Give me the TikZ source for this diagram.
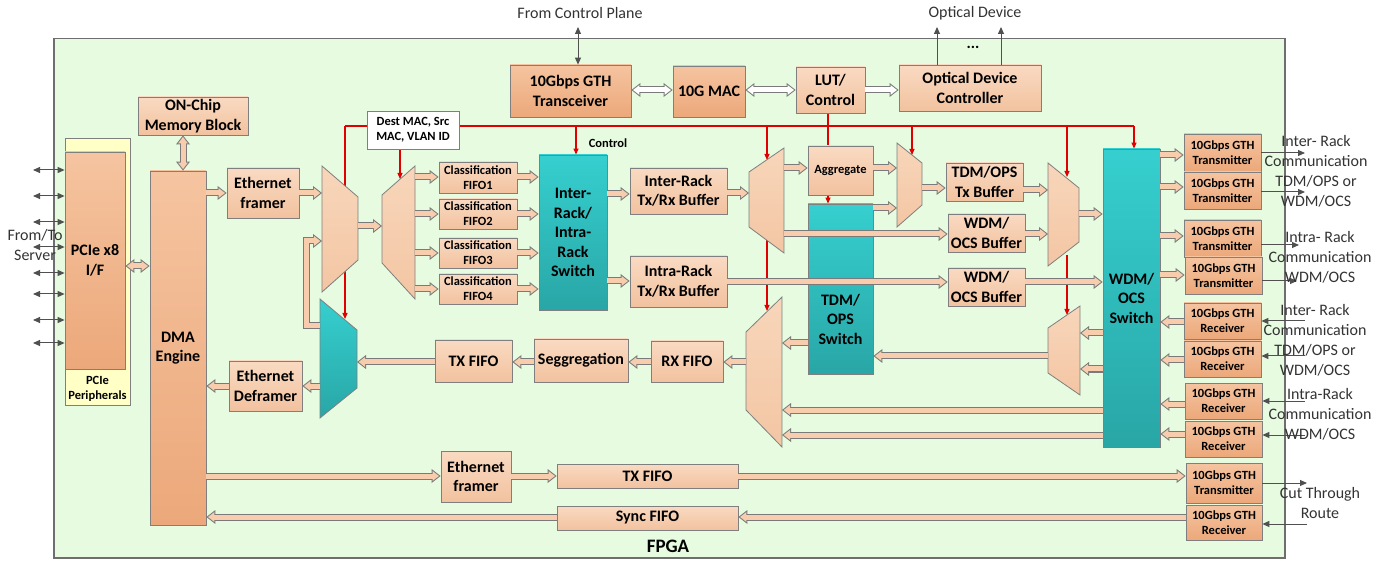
\documentclass[tikz,border=0pt]{standalone}
\usepackage{fontspec}
\setmainfont{Carlito}
\usetikzlibrary{arrows.meta,calc}
\pgfdeclarelayer{back}\pgfdeclarelayer{bg}
\pgfsetlayers{back,bg,main}
\definecolor{fpgabg}{HTML}{E6FBDF}
\definecolor{fgray}{HTML}{6E6E6E}
\definecolor{bgray}{HTML}{7F7F7F}
\definecolor{lpT}{HTML}{F9DAC2}
\definecolor{lpB}{HTML}{F2C29F}
\definecolor{orT}{HTML}{F5C4A0}
\definecolor{orB}{HTML}{ECA87A}
\definecolor{tlT}{HTML}{36CFCF}
\definecolor{tlB}{HTML}{29A6A6}
\definecolor{mxT}{HTML}{F8D6BA}
\definecolor{mxB}{HTML}{F3C6A4}
\definecolor{apeach}{HTML}{F7CDAE}
\definecolor{agray}{HTML}{7A7A7A}
\definecolor{ylw}{HTML}{FFFFC6}
\definecolor{dgray}{HTML}{505050}
\definecolor{ctl}{HTML}{E00000}
\tikzset{
 bt/.style={align=center, inner sep=1pt, text=black, font=\bfseries\fontsize{16}{19.5}\selectfont},
 box/.style={bt, draw=bgray, line width=0.8pt},
 lbox/.style={box, top color=lpT, bottom color=lpB},
 obox/.style={box, top color=orT, bottom color=orB},
 tbox/.style={box, top color=tlT, bottom color=tlB},
 sm/.style={font=\bfseries\fontsize{12.5}{15}\selectfont},
 lbl/.style={align=center, inner sep=0pt, text=black!80, font=\fontsize{16}{20}\selectfont},
 mx/.style={draw=bgray, line width=0.8pt, top color=mxT, bottom color=mxB},
 tmx/.style={draw=bgray, line width=0.8pt, top color=tlT, bottom color=tlB},
 barr/.style={draw=agray, line width=7pt, -{Triangle[length=9pt,width=14pt,line width=0pt]},
   postaction={draw=#1, line width=5pt, -{Triangle[length=6.4pt,width=9.9pt,line width=0pt]}, shorten >=1.63pt}},
 barr/.default=apeach,
 dbarr/.style={draw=agray, line width=7pt, {Triangle[length=9pt,width=14pt,line width=0pt]}-{Triangle[length=9pt,width=14pt,line width=0pt]},
   postaction={draw=#1, line width=5pt, {Triangle[length=6.4pt,width=9.9pt,line width=0pt]}-{Triangle[length=6.4pt,width=9.9pt,line width=0pt]}, shorten >=1.63pt, shorten <=1.63pt}},
 dbarr/.default=apeach,
 tarr/.style={draw=dgray, line width=1pt, -{Triangle[length=7pt,width=6pt]}},
 tdarr/.style={draw=dgray, line width=1pt, {Triangle[length=7pt,width=6pt]}-{Triangle[length=7pt,width=6pt]}},
 rline/.style={draw=ctl, line width=1.1pt},
 rarr/.style={draw=ctl, line width=1.1pt, -{Triangle[length=6pt,width=5pt]}},
}
\newcommand{\mybox}[7]{\node[#2, minimum width={#5-#3}, minimum height={#6-#4}] (#1) at ({(#3+#5)/2},{(#4+#6)/2}) {#7};}
\newcommand{\muxL}[8]{%
 \node[inner sep=0pt, outer sep=0pt, minimum width={#4-#3}, minimum height={#6-#5}, anchor=north west] (#1) at (#3,#5) {};
 \draw[#2] (#3,#5) -- (#4,{#5+#7}) -- (#4,{#6-#8}) -- (#3,#6) -- cycle;}
\newcommand{\muxR}[8]{%
 \node[inner sep=0pt, outer sep=0pt, minimum width={#4-#3}, minimum height={#6-#5}, anchor=north west] (#1) at (#3,#5) {};
 \draw[#2] (#3,{#5+#7}) -- (#4,#5) -- (#4,#6) -- (#3,{#6-#8}) -- cycle;}
\begin{document}
\begin{tikzpicture}[x=1pt,y=-1pt]
\useasboundingbox (0,0) rectangle (1398,561);
\begin{pgfonlayer}{back}
\node[draw=fgray, fill=fpgabg, line width=1.5pt, inner sep=0pt, minimum width=1231, minimum height=519, anchor=north west] (fpga) at (53,38) {};
\end{pgfonlayer}
% boxes
\mybox{pcieper}{draw=bgray, line width=0.8pt, fill=ylw}{65}{138}{130}{405}{}
\mybox{pcie}{obox}{65}{152}{125}{369}{PCIe x8\\I/F}
\node[bt, sm] (pcielbl) at (97.5,388.5) {PCIe\\Peripherals};
\mybox{mem}{lbox}{138}{97}{248}{135}{ON-Chip\\Memory Block}
\mybox{dma}{obox}{150}{171}{206}{525}{DMA\\Engine}
\mybox{ef1}{lbox}{227}{168}{299}{218}{Ethernet\\framer}
\mybox{edf}{lbox}{229}{361}{302}{411}{Ethernet\\Deframer}
\mybox{dest}{box, fill=white, sm}{367}{111}{459}{149}{Dest MAC, Src\\MAC, VLAN ID}
\mybox{cf1}{lbox, sm}{439}{162}{517}{193}{Classification\\FIFO1}
\mybox{cf2}{lbox, sm}{439}{199}{517}{229}{Classification\\FIFO2}
\mybox{cf3}{lbox, sm}{439}{238}{517}{268}{Classification\\FIFO3}
\mybox{cf4}{lbox, sm}{439}{274}{517}{304}{Classification\\FIFO4}
\mybox{sw1}{tbox}{539}{155}{607}{310}{Inter-\\Rack/\\Intra-\\Rack\\Switch}
\node[bt, sm] (ctrltxt) at (608,143) {Control};
\mybox{inter}{lbox}{630}{168}{727}{214}{Inter-Rack\\Tx/Rx Buffer}
\mybox{intra}{lbox}{630}{256}{727}{307}{Intra-Rack\\Tx/Rx Buffer}
\mybox{gtht}{obox}{510}{65}{631}{117}{10Gbps GTH\\Transceiver}
\mybox{mac}{obox}{673}{66}{745}{117}{10G MAC}
\mybox{lut}{lbox}{796}{67}{865}{113}{LUT/\\Control}
\mybox{odc}{lbox}{899}{65}{1041}{111}{Optical Device\\Controller}
\mybox{agg}{lbox, sm}{808}{146}{873}{195}{Aggregate}
\mybox{tdmsw}{tbox}{808}{204}{873}{374}{}
\node[bt] (tdmtxt) at (840.5,319) {TDM/\\OPS\\Switch};
\mybox{tdmtx}{lbox}{946}{163}{1023}{201}{TDM/OPS\\Tx Buffer}
\mybox{wdm1}{lbox}{948}{214}{1025}{252}{WDM/\\OCS Buffer}
\mybox{wdm2}{lbox}{948}{268}{1025}{306}{WDM/\\OCS Buffer}
\mybox{wdmsw}{tbox}{1103}{149}{1160}{447}{WDM/\\OCS\\Switch}
\mybox{t1}{obox, sm}{1184}{134}{1261}{171}{10Gbps GTH\\Transmitter}
\mybox{t2}{obox, sm}{1184}{172}{1261}{209}{10Gbps GTH\\Transmitter}
\mybox{t3}{obox, sm}{1184}{220}{1261}{257}{10Gbps GTH\\Transmitter}
\mybox{t4}{obox, sm}{1185}{257}{1262}{294}{10Gbps GTH\\Transmitter}
\mybox{r1}{obox, sm}{1184}{303}{1261}{339}{10Gbps GTH\\Receiver}
\mybox{r2}{obox, sm}{1184}{341}{1261}{377}{10Gbps GTH\\Receiver}
\mybox{r3}{obox, sm}{1185}{383}{1262}{419}{10Gbps GTH\\Receiver}
\mybox{r4}{obox, sm}{1185}{421}{1262}{457}{10Gbps GTH\\Receiver}
\mybox{rxf}{lbox}{651}{341}{723}{382}{RX FIFO}
\mybox{seg}{lbox}{534}{339}{628}{382}{Seggregation}
\mybox{txf}{lbox}{435}{340}{512}{382}{TX FIFO}
\mybox{ef2}{lbox}{441}{451}{511}{502}{Ethernet\\framer}
\mybox{txf2}{lbox}{557}{464}{738}{488}{TX FIFO}
\mybox{syf}{lbox}{557}{506}{738}{530}{Sync FIFO}
\mybox{t5}{obox, sm}{1186}{463}{1262}{503}{10Gbps GTH\\Transmitter}
\mybox{r5}{obox, sm}{1186}{505}{1262}{540}{10Gbps GTH\\Receiver}
% muxes
\muxL{mux1}{mx}{322}{358}{166}{292}{31}{32}
\muxR{dmx}{mx}{382}{415}{166}{299}{29}{36}
\muxR{mux3}{mx}{749}{784}{148}{253}{24}{26}
\muxL{mux4}{mx}{897}{922}{143}{227}{20}{22}
\muxL{mux5}{mx}{1048}{1079}{163}{266}{25}{24}
\muxR{mux6}{mx}{746}{782}{297}{447}{35}{37}
\muxR{mux7}{mx}{1048}{1080}{306}{395}{22}{22}
\muxL{tmux}{tmx}{320}{357}{299}{418}{31}{30}
% red control lines
\begin{pgfonlayer}{bg}
\draw[rline] (345,126) -- (1134,126);
\draw[rarr] (345,126) -- (345,319);
\draw[rarr] (dest.south -| 400,0) -- (400,179);
\draw[rarr] (576,126) -- (sw1.north -| 576,0);
\draw[rline] (lut.south -| 828,0) -- (agg.north -| 828,0);
\draw[rarr] (agg.south -| 828,0) -- (tdmsw.north -| 828,0);
\draw[rarr] (767,126) -- (767,160);
\draw[rarr] (767,238) -- (767,311);
\draw[rarr] (912,126) -- (912,155);
\draw[rarr] (1067,126) -- (1067,177);
\draw[rarr] (1067,255) -- (1067,315);
\draw[rarr] (1134,126) -- (wdmsw.north -| 1134,0);
\end{pgfonlayer}
% left side
\coordinate (srv) at (33,0);
\foreach \yy in {170,196,222,247,273,294,320,343}
  \draw[tdarr] (srv |- 0,\yy) -- (pcieper.west |- 0,\yy);
\node[lbl] (server) at (35,245) {From/To\\Server};
% block arrows
\draw[dbarr] (pcie.east |- 0,266) -- (dma.west |- 0,266);
\draw[dbarr] (mem.south -| 183,0) -- (dma.north -| 183,0);
\draw[barr] (dma.east |- 0,193) -- (ef1.west |- 0,193);
\draw[barr] (ef1.east |- 0,193) -- (mux1.west |- 0,193);
\draw[barr] (mux1.east |- 0,226) -- (dmx.west |- 0,226);
\foreach \nm/\yy in {cf1/177,cf2/214,cf3/253,cf4/289}{
  \draw[barr] (dmx.east |- 0,\yy) -- (\nm.west |- 0,\yy);
  \draw[barr] (\nm.east |- 0,\yy) -- (sw1.west |- 0,\yy);}
\draw[barr] (sw1.east |- 0,194) -- (inter.west |- 0,194);
\draw[barr] (sw1.east |- 0,281) -- (intra.west |- 0,281);
\draw[barr] (inter.east |- 0,193) -- (mux3.west |- 0,193);
\draw[barr] (mux3.east |- 0,168) -- (agg.west |- 0,168);
\draw[barr] (mux3.east |- 0,234) -- (wdm1.west |- 0,234);
\draw[barr] (agg.east |- 0,168) -- (mux4.west |- 0,168);
\draw[barr] (tdmsw.east |- 0,208) -- (mux4.west |- 0,208);
\draw[barr] (mux4.east |- 0,188) -- (tdmtx.west |- 0,188);
\draw[barr] (tdmtx.east |- 0,190) -- (mux5.west |- 0,190);
\draw[barr] (wdm1.east |- 0,234) -- (mux5.west |- 0,234);
\draw[barr] (mux5.east |- 0,214) -- (wdmsw.west |- 0,214);
\draw[barr] (intra.east |- 0,282) -- (wdm2.west |- 0,282);
\draw[barr] (wdm2.east |- 0,282) -- (wdmsw.west |- 0,282);
\foreach \nm/\yy in {t1/155,t2/187,t3/236,t4/275}
  \draw[barr] (wdmsw.east |- 0,\yy) -- (\nm.west |- 0,\yy);
\foreach \nm/\yy in {r1/322,r2/360,r3/404,r4/434}
  \draw[barr] (\nm.west |- 0,\yy) -- (wdmsw.east |- 0,\yy);
\draw[barr] (wdmsw.west |- 0,333) -- (mux7.east |- 0,333);
\draw[barr] (wdmsw.west |- 0,369) -- (mux7.east |- 0,369);
\draw[barr] (mux7.west |- 0,356) -- (tdmsw.east |- 0,356);
\draw[barr] (tdmsw.west |- 0,343) -- (mux6.east |- 0,343);
\draw[barr] (wdmsw.west |- 0,410) -- (mux6.east |- 0,410);
\draw[barr] (wdmsw.west |- 0,435) -- (mux6.east |- 0,435);
\draw[barr] (mux6.west |- 0,362) -- (rxf.east |- 0,362);
\draw[barr] (rxf.west |- 0,362) -- (seg.east |- 0,362);
\draw[barr] (seg.west |- 0,362) -- (txf.east |- 0,362);
\draw[barr] (txf.west |- 0,362) -- (tmux.east |- 0,362);
\draw[barr] (tmux.west |- 0,386) -- (edf.east |- 0,386);
\draw[barr] (edf.west |- 0,386) -- (dma.east |- 0,386);
\draw[barr] (tmux.west |- 0,326) -- (306,326) -- (306,241) -- (mux1.west |- 0,241);
\draw[barr] (dma.east |- 0,476) -- (ef2.west |- 0,476);
\draw[barr] (ef2.east |- 0,476) -- (txf2.west |- 0,476);
\draw[barr] (txf2.east |- 0,476) -- (t5.west |- 0,476);
\draw[barr] (r5.west |- 0,517) -- (syf.east |- 0,517);
\draw[barr] (syf.west |- 0,517) -- (dma.east |- 0,517);
% top
\draw[dbarr=white] (gtht.east |- 0,90) -- (mac.west |- 0,90);
\draw[dbarr=white] (mac.east |- 0,90) -- (lut.west |- 0,90);
\draw[barr=white] (lut.east |- 0,90) -- (odc.west |- 0,90);
\node[lbl] (ctrlp) at (580,13) {From Control Plane};
\draw[tdarr] (578,27) -- (gtht.north -| 578,0);
\node[lbl] (optd) at (975,13) {Optical Device};
\draw[tarr] (odc.north -| 937,0) -- (937,27);
\draw[tarr] (odc.north -| 1001,0) -- (1001,27);
\node[bt] (dots) at (973,47) {...};
% right side
\coordinate (xo) at (1305,0);
\draw[tarr] (t1.east |- 0,153) -- (xo |- 0,153);
\draw[tarr] (t2.east |- 0,192) -- (xo |- 0,192);
\draw[tarr] (t3.east |- 0,245) -- (1299,245);
\draw[tarr] (t4.east |- 0,281) -- (1297,281);
\draw[tarr] (xo |- 0,321) -- (r1.east |- 0,321);
\draw[tarr] (xo |- 0,356) -- (r2.east |- 0,356);
\draw[tarr] (xo |- 0,401) -- (r3.east |- 0,401);
\draw[tarr] (xo |- 0,435) -- (r4.east |- 0,435);
\draw[tarr] (t5.east |- 0,483) -- (1307,483);
\draw[tarr] (1307,524) -- (r5.east |- 0,524);
\node[lbl] (lab1) at (1316,171) {Inter- Rack\\Communication\\TDM/OPS or\\WDM/OCS};
\node[lbl] (lab2) at (1320,257) {Intra- Rack\\Communication\\WDM/OCS};
\node[lbl] (lab3) at (1315,340) {Inter- Rack\\Communication\\TDM/OPS or\\WDM/OCS};
\node[lbl] (lab4) at (1320,414) {Intra-Rack\\Communication\\WDM/OCS};
\node[lbl] (cut) at (1320,503) {Cut Through\\Route};
\node[bt, font=\bfseries\fontsize{19}{22}\selectfont] (fpgalbl) at (668,546) {FPGA};
\end{tikzpicture}
\end{document}
